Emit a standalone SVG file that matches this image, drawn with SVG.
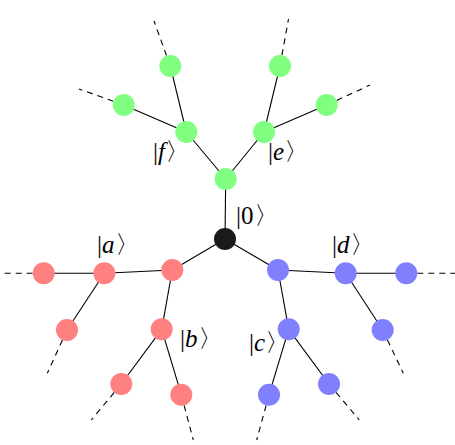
<svg xmlns="http://www.w3.org/2000/svg" width="455" height="445" viewBox="0 0 455 445">
<style>
.e{stroke:#000;stroke-width:1.1;fill:none}
.d{stroke:#000;stroke-width:1.1;fill:none;stroke-dasharray:6 5}
.g{fill:#80FF80}
.r{fill:#FF8080}
.b{fill:#8080FF}
.k{fill:#1a1a1a}
.t{font-family:"Liberation Serif",serif;font-size:25px;fill:#000}
.i{font-style:italic}
</style>
<rect width="455" height="445" fill="#fff"/>
<g id="connectors">
<line class="e" x1="225" y1="239" x2="225.7" y2="179"/>
<line class="e" x1="225.7" y1="179" x2="186.3" y2="132"/>
<line class="e" x1="225.7" y1="179" x2="264" y2="132"/>
<line class="e" x1="186.3" y1="132" x2="170.3" y2="66"/>
<line class="e" x1="186.3" y1="132" x2="123.7" y2="105"/>
<line class="e" x1="264" y1="132" x2="280" y2="66"/>
<line class="e" x1="264" y1="132" x2="326.7" y2="105"/>
<line class="d" x1="170.3" y1="66" x2="154" y2="21"/>
<line class="d" x1="123.7" y1="105" x2="79" y2="89"/>
<line class="d" x1="280" y1="66" x2="288.5" y2="19"/>
<line class="d" x1="326.7" y1="105" x2="370" y2="85"/>
<line class="e" x1="225" y1="239" x2="172.3" y2="270"/>
<line class="e" x1="225" y1="239" x2="278" y2="270"/>
<line class="e" x1="172.3" y1="270" x2="104.3" y2="273.3"/>
<line class="e" x1="172.3" y1="270" x2="161.7" y2="329.3"/>
<line class="e" x1="104.3" y1="273.3" x2="43.7" y2="273.3"/>
<line class="e" x1="104.3" y1="273.3" x2="67" y2="330"/>
<line class="e" x1="161.7" y1="329.3" x2="121.3" y2="384"/>
<line class="e" x1="161.7" y1="329.3" x2="181.3" y2="394.7"/>
<line class="d" x1="43.7" y1="273.3" x2="0" y2="273.3"/>
<line class="d" x1="67" y1="330" x2="47.3" y2="373.3"/>
<line class="d" x1="121.3" y1="384" x2="91.3" y2="420"/>
<line class="d" x1="181.3" y1="394.7" x2="193.3" y2="440"/>
<line class="e" x1="278" y1="270" x2="345.7" y2="273.3"/>
<line class="e" x1="278" y1="270" x2="288.7" y2="329.3"/>
<line class="e" x1="345.7" y1="273.3" x2="406.3" y2="273.3"/>
<line class="e" x1="345.7" y1="273.3" x2="382.7" y2="330"/>
<line class="e" x1="288.7" y1="329.3" x2="269" y2="394.7"/>
<line class="e" x1="288.7" y1="329.3" x2="329" y2="384"/>
<line class="d" x1="406.3" y1="273.3" x2="455" y2="273.3"/>
<line class="d" x1="382.7" y1="330" x2="403.3" y2="373.3"/>
<line class="d" x1="269" y1="394.7" x2="256.7" y2="440"/>
<line class="d" x1="329" y1="384" x2="359.3" y2="420"/>
</g>
<g id="n0"><circle class="k" cx="225" cy="239" r="11"/><text class="t" x="236" y="224">|0〉</text></g>
<g id="g0"><circle class="g" cx="225.7" cy="179" r="11"/></g>
<g id="nf"><circle class="g" cx="186.3" cy="132" r="11"/><text class="t" x="153" y="160">|<tspan class="i">f</tspan>〉</text></g>
<g id="ne"><circle class="g" cx="264" cy="132" r="11"/><text class="t" x="268" y="160">|<tspan class="i">e</tspan>〉</text></g>
<g id="g1"><circle class="g" cx="170.3" cy="66" r="11"/></g>
<g id="g2"><circle class="g" cx="123.7" cy="105" r="11"/></g>
<g id="g3"><circle class="g" cx="280" cy="66" r="11"/></g>
<g id="g4"><circle class="g" cx="326.7" cy="105" r="11"/></g>
<g id="r0"><circle class="r" cx="172.3" cy="270" r="11"/></g>
<g id="na"><circle class="r" cx="104.3" cy="273.3" r="11"/><text class="t" x="97" y="253">|<tspan class="i">a</tspan>〉</text></g>
<g id="nb"><circle class="r" cx="161.7" cy="329.3" r="11"/><text class="t" x="180" y="347">|<tspan class="i">b</tspan>〉</text></g>
<g id="r1"><circle class="r" cx="43.7" cy="273.3" r="11"/></g>
<g id="r2"><circle class="r" cx="67" cy="330" r="11"/></g>
<g id="r3"><circle class="r" cx="121.3" cy="384" r="11"/></g>
<g id="r4"><circle class="r" cx="181.3" cy="394.7" r="11"/></g>
<g id="b0"><circle class="b" cx="278" cy="270" r="11"/></g>
<g id="nd"><circle class="b" cx="345.7" cy="273.3" r="11"/><text class="t" x="332" y="253">|<tspan class="i">d</tspan>〉</text></g>
<g id="nc"><circle class="b" cx="288.7" cy="329.3" r="11"/><text class="t" x="249" y="351">|<tspan class="i">c</tspan>〉</text></g>
<g id="b1"><circle class="b" cx="406.3" cy="273.3" r="11"/></g>
<g id="b2"><circle class="b" cx="382.7" cy="330" r="11"/></g>
<g id="b3"><circle class="b" cx="269" cy="394.7" r="11"/></g>
<g id="b4"><circle class="b" cx="329" cy="384" r="11"/></g>
</svg>
